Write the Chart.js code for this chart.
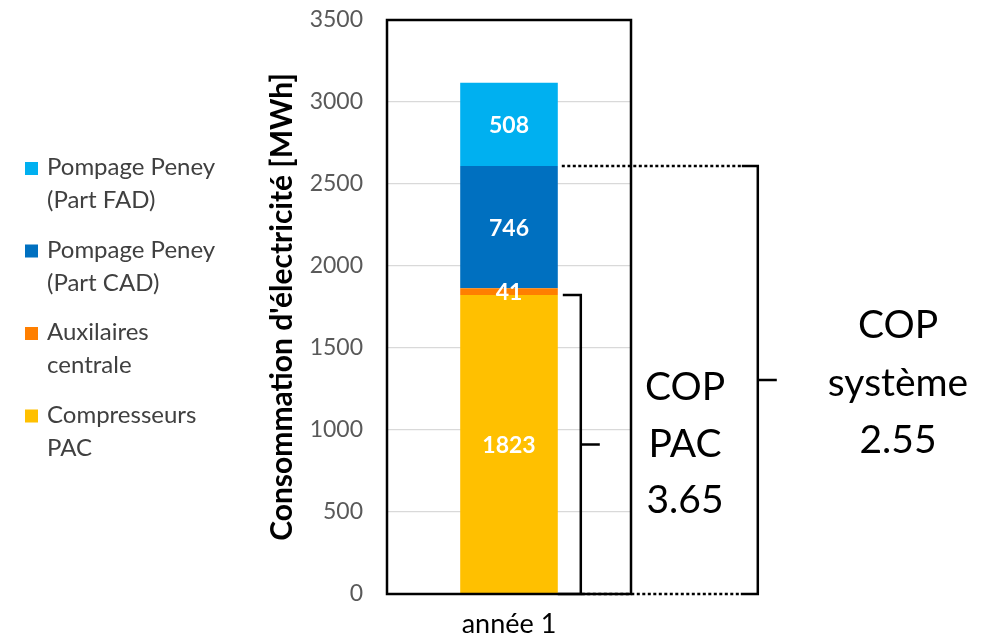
<!DOCTYPE html>
<html lang="fr">
<head>
<meta charset="utf-8">
<title>Consommation d'électricité</title>
<script src="https://cdn.jsdelivr.net/npm/chart.js@4.4.1/dist/chart.umd.min.js"></script>
<style>
  html, body { margin: 0; padding: 0; background: #ffffff; }
  #wrap { width: 1007px; height: 636px; position: relative; }
</style>
</head>
<body>
<div id="wrap"><canvas id="chart" width="1007" height="636"></canvas></div>
<script>
// Stacked electricity consumption for one year, in MWh (bottom to top)
const categories = ['année 1'];
const compresseursPac = [1823];
const auxiliairesCentrale = [41];
const pompageCad = [746];
const pompageFad = [508];

const seriesLabels = [
  'Compresseurs\nPAC',
  'Auxilaires\ncentrale',
  'Pompage Peney\n(Part CAD)',
  'Pompage Peney\n(Part FAD)'
];
const seriesColors = ['#FFC000', '#FF7F00', '#0070C0', '#00B0F0'];

const yTickValues = [0, 500, 1000, 1500, 2000, 2500, 3000, 3500];
const yTitle = "Consommation d'électricité [MWh]";

// Coefficients of performance shown beside the bar
const copPac = '3.65';
const copSysteme = '2.55';

const FONT = 'Lato, "Open Sans", sans-serif';

// Draws the plot frame, segment values, legend and COP brackets
const overlayPlugin = {
  id: 'overlay',
  afterDatasetsDraw(chart) {
    const ctx = chart.ctx;
    const area = chart.chartArea;
    const y = chart.scales.y;

    // frame around the plot area
    ctx.save();
    ctx.strokeStyle = '#000';
    ctx.lineWidth = 2.5;
    ctx.strokeRect(area.left, area.top, area.right - area.left, area.bottom - area.top);
    ctx.restore();

    // values inside each segment
    ctx.save();
    ctx.fillStyle = '#ffffff';
    ctx.font = 'bold 23px ' + FONT;
    ctx.textAlign = 'center';
    ctx.textBaseline = 'middle';
    chart.data.datasets.forEach((ds, i) => {
      const meta = chart.getDatasetMeta(i);
      meta.data.forEach((bar, j) => {
        const cy = (bar.y + bar.base) / 2;
        ctx.fillText(String(ds.data[j]), bar.x, cy + 1);
      });
    });
    ctx.restore();

    // legend, top entry = top segment
    ctx.save();
    ctx.font = '24px ' + FONT;
    ctx.textAlign = 'left';
    ctx.textBaseline = 'alphabetic';
    const order = chart.data.datasets.map((d, i) => i).reverse();
    order.forEach((i, k) => {
      const ds = chart.data.datasets[i];
      const base = 175 + k * 82.5;
      ctx.fillStyle = ds.backgroundColor;
      ctx.fillRect(25, base - 13, 13, 13);
      ctx.fillStyle = '#404040';
      ds.label.split('\n').forEach((line, n) => {
        ctx.fillText(line, 47, base + n * 33);
      });
    });
    ctx.restore();

    // brackets
    const bar = chart.getDatasetMeta(0).data[0];
    const barRight = bar.x + bar.width / 2;
    const yZero = y.getPixelForValue(0);
    const yPac = y.getPixelForValue(compresseursPac[0]);
    const ySys = y.getPixelForValue(compresseursPac[0] + auxiliairesCentrale[0] + pompageCad[0]);
    const xPac = barRight + 23;
    const xSys = barRight + 200;

    ctx.save();
    ctx.strokeStyle = '#000';
    ctx.lineWidth = 2.5;
    ctx.lineCap = 'butt';
    // PAC bracket
    ctx.beginPath();
    ctx.moveTo(barRight + 5, yPac);
    ctx.lineTo(xPac, yPac);
    ctx.lineTo(xPac, yZero);
    ctx.lineTo(barRight, yZero);
    ctx.moveTo(xPac, (yPac + yZero) / 2);
    ctx.lineTo(xPac + 19, (yPac + yZero) / 2);
    // system bracket
    ctx.moveTo(xSys - 16, ySys);
    ctx.lineTo(xSys, ySys);
    ctx.lineTo(xSys, yZero);
    ctx.lineTo(xSys - 17, yZero);
    ctx.moveTo(xSys, (ySys + yZero) / 2);
    ctx.lineTo(xSys + 19, (ySys + yZero) / 2);
    ctx.stroke();
    // dotted leaders
    ctx.setLineDash([3, 2.5]);
    ctx.beginPath();
    ctx.moveTo(barRight + 4, ySys);
    ctx.lineTo(xSys - 16, ySys);
    ctx.moveTo(xPac + 1, yZero);
    ctx.lineTo(xSys - 17, yZero);
    ctx.stroke();
    ctx.restore();

    // COP texts
    ctx.save();
    ctx.fillStyle = '#000';
    ctx.font = '39px ' + FONT;
    ctx.textAlign = 'center';
    ctx.textBaseline = 'alphabetic';
    ['COP', 'PAC', copPac].forEach((t, n) => ctx.fillText(t, 685, 400 + n * 56.5));
    ['COP', 'système', copSysteme].forEach((t, n) => ctx.fillText(t, 898, 338 + n * 57.5));
    ctx.restore();
  }
};

const datasets = [compresseursPac, auxiliairesCentrale, pompageCad, pompageFad].map((values, i) => ({
  label: seriesLabels[i],
  data: values,
  backgroundColor: seriesColors[i],
  borderWidth: 0,
  categoryPercentage: 1,
  barPercentage: 0.4
}));

new Chart(document.getElementById('chart'), {
  type: 'bar',
  data: { labels: categories, datasets },
  plugins: [overlayPlugin],
  options: {
    responsive: false,
    animation: false,
    events: [],
    layout: { padding: { left: 264, right: 376, top: 20, bottom: 0 } },
    plugins: { legend: { display: false }, tooltip: { enabled: false } },
    scales: {
      x: {
        stacked: true,
        grid: { display: false },
        border: { display: false },
        ticks: { color: '#000', font: { family: FONT, size: 27 }, padding: 6 },
        afterFit(s) { s.height = 42; s.paddingLeft = 0; s.paddingRight = 0; }
      },
      y: {
        stacked: true,
        min: 0,
        max: 3500,
        afterBuildTicks(s) { s.ticks = yTickValues.map(v => ({ value: v })); },
        grid: { color: '#D9D9D9', lineWidth: 1.3, drawTicks: false },
        border: { display: false },
        ticks: {
          color: '#595959',
          font: { family: FONT, size: 23 },
          padding: 24,
          callback: v => String(v)
        },
        title: {
          display: true,
          text: yTitle,
          color: '#000',
          font: { family: FONT, size: 30, weight: 'bold' },
          padding: { top: 0, bottom: 0 }
        },
        afterFit(s) { s.width = 123; s.paddingTop = 0; s.paddingBottom = 0; }
      }
    }
  }
});
</script>
</body>
</html>
